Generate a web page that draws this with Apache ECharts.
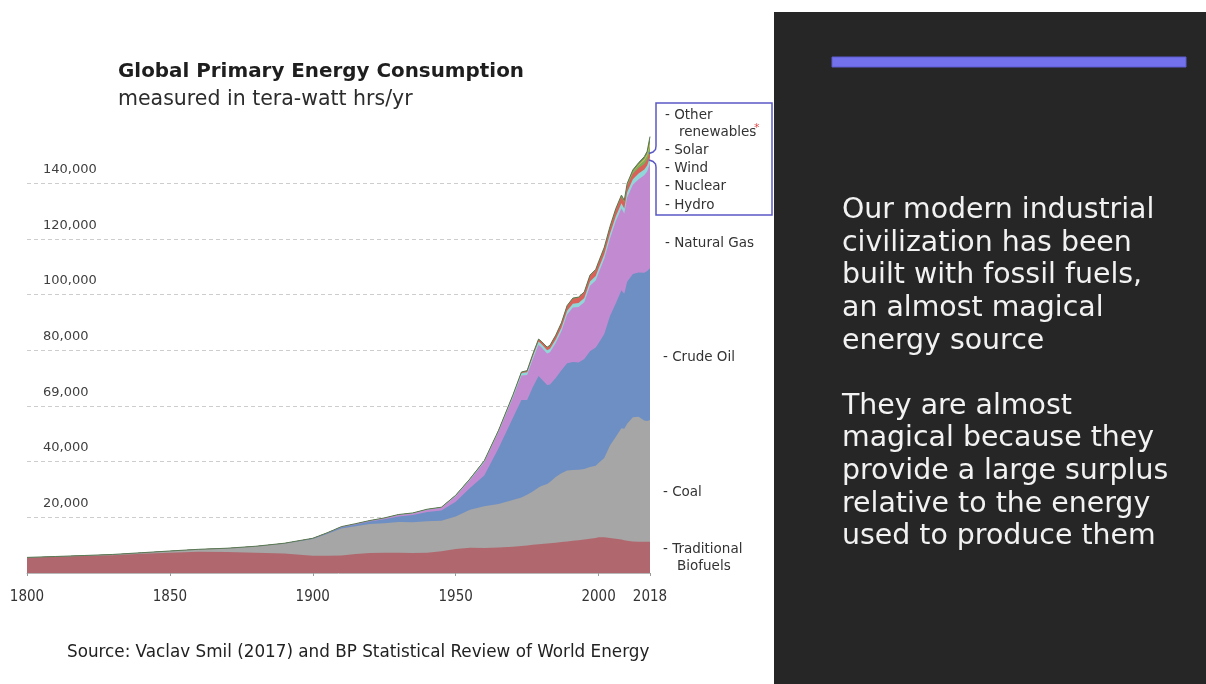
<!DOCTYPE html>
<html>
<head>
<meta charset="utf-8">
<title>Global Primary Energy Consumption</title>
<script src="https://cdn.jsdelivr.net/npm/echarts@6/dist/echarts.min.js"></script>
<style>
  html, body { margin: 0; padding: 0; background: #ffffff; }
  #chart { width: 1206px; height: 684px; }
</style>
</head>
<body>
<div id="chart"></div>
<script>
// Years sampled for the stacked series (TWh per year)
const years = [1800, 1810, 1820, 1830, 1840, 1850, 1860, 1870, 1880, 1890,
  1900, 1905, 1910, 1915, 1920, 1925, 1930, 1935, 1940, 1945, 1950, 1955, 1960,
  1965, 1970, 1973, 1975, 1977, 1979, 1980, 1982, 1983, 1985, 1987, 1989, 1991, 1993, 1995, 1997, 1999,
  2000, 2002, 2004, 2006, 2008, 2009, 2010, 2012, 2014, 2016, 2017, 2018];

const biofuels = [5500, 5800, 6100, 6400, 6900, 7300, 7600, 7500, 7300, 7000,
  6200, 6200, 6300, 6800, 7200, 7300, 7300, 7200, 7300, 7800, 8600, 9100, 9000,
  9200, 9400, 9700, 9900, 10100, 10300, 10400, 10600, 10700, 10900, 11100, 11300, 11600, 11800, 12000, 12300, 12600,
  12800, 12800, 12600, 12300, 12000, 11800, 11600, 11300, 11200, 11200, 11200, 11200];

const coal = [100, 130, 180, 260, 380, 600, 900, 1400, 2300, 3600,
  6000, 7800, 9700, 10000, 10400, 10600, 11000, 11000, 11300, 11000, 11700, 13600, 15000,
  15600, 16800, 17400, 18200, 19200, 20400, 20800, 21400, 22000, 23600, 24700, 25500, 25400, 25300, 25300, 25800, 25900,
  26700, 28500, 33200, 36500, 40000, 40000, 42000, 44600, 44900, 43600, 43400, 43700];

const crudeOil = [0, 0, 0, 0, 0, 0, 0, 0, 0, 80,
  200, 300, 450, 650, 900, 1400, 2000, 2600, 3300, 3600, 5300, 7800, 11000,
  20000, 29500, 35000, 34000, 37500, 40000, 38500, 35500, 35000, 35500, 37000, 38500, 38800, 38500, 39500, 41500, 42500,
  43000, 44500, 46500, 48000, 49500, 48500, 51000, 51500, 51800, 53000, 53800, 54500];

const naturalGas = [0, 0, 0, 0, 0, 0, 0, 0, 0, 0,
  70, 100, 150, 200, 250, 350, 550, 600, 800, 1000, 2000, 2900, 4800,
  5800, 7200, 8800, 9000, 10000, 11300, 11400, 11300, 11600, 12600, 14000, 17500, 19500, 19900, 20400, 23500, 24000,
  25200, 27000, 27800, 29500, 29500, 28800, 30200, 32000, 33500, 35000, 35800, 37700];

const hydro = [0, 0, 0, 0, 0, 0, 0, 0, 0, 0,
  0, 20, 50, 70, 100, 120, 150, 170, 200, 220, 300, 400, 500,
  600, 800, 900, 1000, 1050, 1100, 1150, 1200, 1250, 1250, 1300, 1350, 1400, 1450, 1500, 1550, 1600,
  1600, 1650, 1700, 1750, 1800, 1800, 1900, 2000, 2050, 2100, 2150, 2200];

const nuclear = [0, 0, 0, 0, 0, 0, 0, 0, 0, 0,
  0, 0, 0, 0, 0, 0, 0, 0, 0, 0, 0, 0, 0,
  30, 100, 300, 500, 700, 800, 850, 1000, 1100, 1400, 1600, 1700, 1800, 1900, 2000, 2050, 2100,
  2100, 2150, 2200, 2200, 2200, 2150, 2200, 2000, 2000, 2000, 2000, 2000];

const wind = [0, 0, 0, 0, 0, 0, 0, 0, 0, 0,
  0, 0, 0, 0, 0, 0, 0, 0, 0, 0, 0, 0, 0,
  0, 0, 0, 0, 0, 0, 0, 0, 0, 0, 0, 0, 0, 0, 10, 20, 30,
  40, 60, 90, 150, 250, 300, 400, 600, 850, 1200, 1350, 1900];

const solar = [0, 0, 0, 0, 0, 0, 0, 0, 0, 0,
  0, 0, 0, 0, 0, 0, 0, 0, 0, 0, 0, 0, 0,
  0, 0, 0, 0, 0, 0, 0, 0, 0, 0, 0, 0, 0, 0, 0, 0, 0,
  5, 10, 15, 25, 40, 50, 80, 200, 350, 600, 800, 1600];

const otherRenewables = [0, 0, 0, 0, 0, 0, 0, 0, 0, 0,
  0, 0, 0, 0, 0, 0, 0, 0, 0, 0, 0, 0, 0,
  0, 50, 60, 60, 70, 80, 90, 100, 110, 130, 150, 180, 200, 220, 230, 250, 270,
  280, 300, 320, 350, 400, 420, 450, 550, 650, 800, 900, 1900];

// Layer order, bottom to top
const seriesNames = ['Traditional Biofuels', 'Coal', 'Crude Oil', 'Natural Gas',
  'Hydro', 'Nuclear', 'Wind', 'Solar', 'Other renewables'];
const seriesValues = [biofuels, coal, crudeOil, naturalGas, hydro, nuclear, wind, solar, otherRenewables];

const xTicks = [1800, 1850, 1900, 1950, 2000, 2018];
const yTickLabels = ['20,000', '40,000', '69,000', '80,000', '100,000', '120,000', '140,000'];

const titleText = 'Global Primary Energy Consumption';
const subtitleText = 'measured in tera-watt hrs/yr';
const sourceText = 'Source: Vaclav Smil (2017) and BP Statistical Review of World Energy';
const noteLines = [
  'Our modern industrial',
  'civilization has been',
  'built with fossil fuels,',
  'an almost magical',
  'energy source',
  '',
  'They are almost',
  'magical because they',
  'provide a large surplus',
  'relative to the energy',
  'used to produce them'
];

// ---- styling ----
const colors = {
  'Traditional Biofuels': '#b0686e',
  'Coal': '#a6a6a6',
  'Crude Oil': '#6e8fc4',
  'Natural Gas': '#c28bd1',
  'Hydro': '#8fd7d8',
  'Nuclear': '#d9615a',
  'Wind': '#7aae5c',
  'Solar': '#cdbf5a',
  'Other renewables': '#6a8c5c'
};
const labelFont = '13.5px "DejaVu Sans"';
const labelColor = '#333333';

// label anchor points (left edge, vertical middle) for the layer names
const labelLayout = {
  'Other renewables': [665, 115],
  'Solar': [665, 150],
  'Wind': [665, 168],
  'Nuclear': [665, 186],
  'Hydro': [665, 205],
  'Natural Gas': [665, 243],
  'Crude Oil': [663, 357],
  'Coal': [663, 492],
  'Traditional Biofuels': [663, 549]
};
const twoLineNames = ['Traditional Biofuels', 'Other renewables'];

function layerLabel(name) {
  const [x, y] = labelLayout[name];
  const parts = twoLineNames.includes(name) ? name.split(' ') : [name];
  const out = parts.map((p, i) => ({
    type: 'text', x: i ? x + 14 : x, y: y + i * 17.5, z: 20,
    style: { text: (i ? '' : '- ') + p, font: labelFont, fill: labelColor, verticalAlign: 'middle' }
  }));
  if (name === 'Other renewables') {
    out.push({ type: 'text', x: 754, y: 128, z: 20,
      style: { text: '*', font: '11px "DejaVu Sans"', fill: '#e04848', verticalAlign: 'middle' } });
  }
  return out;
}

const boxColor = '#5a58c6';
const graphics = [
  // dark side panel
  { type: 'rect', z: 1, shape: { x: 774, y: 12, width: 432, height: 672 }, style: { fill: '#262626' } },
  { type: 'rect', z: 2, shape: { x: 832, y: 57, width: 354, height: 10 },
    style: { fill: '#7372ec', stroke: '#5c5bd0', lineWidth: 1 } },
  { type: 'text', x: 842, y: 194.5, z: 3,
    style: { text: noteLines.join('\n'), font: '28.4px "DejaVu Sans"', lineHeight: 32.6,
      fill: '#f2f2f2', verticalAlign: 'top' } },
  // title block
  { type: 'text', x: 118, y: 72, z: 10,
    style: { text: titleText, font: 'bold 19.9px "DejaVu Sans"', fill: '#1e1e1e', verticalAlign: 'middle' } },
  { type: 'text', x: 118, y: 100, z: 10,
    style: { text: subtitleText, font: '20.5px "DejaVu Sans"', fill: '#2c2c2c', verticalAlign: 'middle' } },
  { type: 'text', x: 67, y: 653, z: 10,
    style: { text: sourceText, font: '16.8px "DejaVu Sans"', fill: '#222222', verticalAlign: 'middle' } },
  // bracket box around the renewables labels
  { type: 'polyline', z: 15,
    shape: { points: [[656, 146], [656, 103], [772, 103], [772, 215], [656, 215], [656, 167]] },
    style: { stroke: boxColor, lineWidth: 1.5, fill: null } },
  { type: 'polyline', z: 15,
    shape: { points: [[656, 146], [655.5, 149.5], [653, 152], [649, 153.5]] },
    style: { stroke: boxColor, lineWidth: 1.5, fill: null } },
  { type: 'polyline', z: 15,
    shape: { points: [[649, 160], [653, 161.5], [655.5, 164], [656, 167]] },
    style: { stroke: boxColor, lineWidth: 1.5, fill: null } }
];
Object.keys(labelLayout).forEach(n => graphics.push(...layerLabel(n)));

// Running totals: each layer's upper edge. Every area fills down to zero,
// and lower layers are painted over the ones above them.
const layerTops = [];
seriesValues.forEach((vals, i) => {
  layerTops.push(vals.map((v, j) => v + (i ? layerTops[i - 1][j] : 0)));
});

const lastIndex = seriesNames.length - 1;
const chart = echarts.init(document.getElementById('chart'), null, { renderer: 'canvas' });
chart.setOption({
  animation: false,
  backgroundColor: '#ffffff',
  grid: { left: 27, right: 556, top: 127.4, bottom: 111, outerBoundsMode: 'none' },
  xAxis: {
    type: 'value', min: 1800, max: 2018,
    splitLine: { show: false },
    axisLine: { show: true, lineStyle: { color: '#b8b8b8', width: 1 } },
    axisTick: { show: true, customValues: xTicks, length: 3, lineStyle: { color: '#9a9a9a' } },
    axisLabel: {
      customValues: xTicks, margin: 17, color: '#333333', fontSize: 15,
      fontFamily: '"Liberation Sans Narrow", "DejaVu Sans Condensed", "Liberation Sans"',
      formatter: v => String(v)
    }
  },
  yAxis: {
    type: 'value', min: 0, max: 160000, interval: 20000,
    axisLine: { show: false },
    axisTick: { show: false },
    splitLine: {
      show: true, showMinLine: false, showMaxLine: false,
      lineStyle: { color: '#cdcdcd', type: [4, 3], width: 1 }
    },
    axisLabel: {
      inside: true, margin: 16, verticalAlign: 'bottom', padding: [0, 0, 7, 0],
      showMinLabel: false, showMaxLabel: false,
      color: '#404040', fontSize: 13, fontFamily: '"DejaVu Sans"',
      formatter: v => yTickLabels[Math.round(v / 20000) - 1] || ''
    }
  },
  series: seriesNames.map((name, i) => ({
    name: name,
    type: 'line',
    z: 2,
    zlevel: 0,
    data: years.map((y, j) => [y, layerTops[i][j]]),
    symbol: 'none',
    showSymbol: false,
    smooth: false,
    lineStyle: i === lastIndex ? { width: 1, color: '#5b7a52' } : { width: 0 },
    areaStyle: { color: colors[name], opacity: 1 },
    emphasis: { disabled: true },
    silent: true
  })).reverse(),
  graphic: graphics
});
</script>
</body>
</html>
